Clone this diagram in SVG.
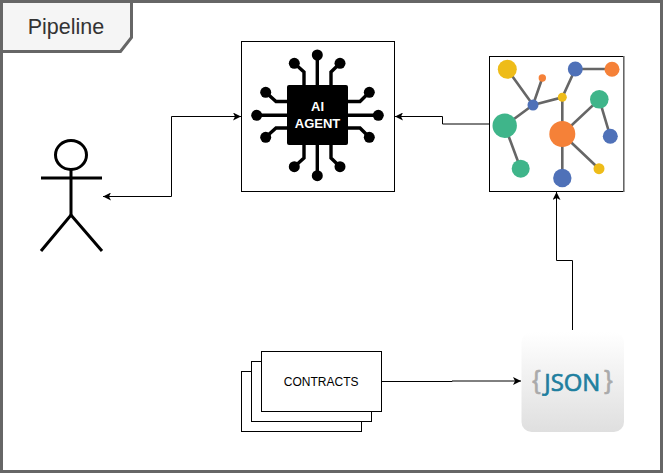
<svg xmlns="http://www.w3.org/2000/svg" width="663" height="473" viewBox="0 0 663 473">
<style>
.box{fill:#fff;stroke:#000;stroke-width:1}
.conn{fill:none;stroke:#000;stroke-width:1}
.c{fill:none;stroke:#000;stroke-width:3.4}
.p{fill:#000}
.e{stroke:#666;stroke-width:2.6;fill:none}
.fig{fill:none;stroke:#000;stroke-width:3}
text{font-family:"Liberation Sans",Arial,sans-serif}
</style>
<defs>
<marker id="a" markerUnits="userSpaceOnUse" markerWidth="9" markerHeight="8" refX="8" refY="4" orient="auto-start-reverse"><path d="M0 0L8 4L0 8L2 4Z" fill="#000"/></marker>
<linearGradient id="g" x1="0" y1="0" x2="0" y2="1"><stop offset="0" stop-color="#fff"/><stop offset="1" stop-color="#dfdfdf"/></linearGradient>
</defs>
<rect id="bg" x="0" y="0" width="663" height="473" fill="#fff"/>
<g id="frame">
<rect x="1.500" y="1.500" width="660" height="470" fill="none" stroke="#666" stroke-width="3"/>
<path d="M1.500 1.500H131.500V37.500L120.500 51.500H1.500Z" fill="#f5f5f5" stroke="#666" stroke-width="3"/>
<text x="66" y="33.500" font-size="21.500" fill="#333" text-anchor="middle">Pipeline</text>
</g>
<g id="agent">
<rect class="box" x="241.500" y="41.500" width="153" height="150"/>
<g class="c">
<path d="M317.300 115V55M317.300 115V176M257 115.300H378"/>
<path d="M304 88V72L294.300 63.300M331 88V72L340 63.300M304 142V158L294.300 166.700M331 142V158L340 166.700"/>
<path d="M290 101.500H276L265.700 92.300M345 101.500H360L369.300 92.300M290 128H276L265.700 137.300M345 128H360L369.300 137.300"/>
</g>
<g class="p">
<circle cx="317.300" cy="55" r="5.500"/><circle cx="317.300" cy="175.700" r="5.500"/><circle cx="256.700" cy="115.300" r="5.500"/><circle cx="378.300" cy="115.300" r="5.500"/>
<circle cx="294.300" cy="63.300" r="5.500"/><circle cx="340" cy="63.300" r="5.500"/><circle cx="294.300" cy="166.700" r="5.500"/><circle cx="340" cy="166.700" r="5.500"/>
<circle cx="265.700" cy="92.300" r="5.500"/><circle cx="369.300" cy="92.300" r="5.500"/><circle cx="265.700" cy="137.300" r="5.500"/><circle cx="369.300" cy="137.300" r="5.500"/>
</g>
<rect x="287" y="85" width="61" height="60" rx="2" fill="#000"/>
<text x="317.500" y="111" font-size="13" font-weight="bold" fill="#fff" text-anchor="middle">AI</text>
<text x="317.500" y="127.500" font-size="13" font-weight="bold" fill="#fff" text-anchor="middle">AGENT</text>
</g>
<g id="graph">
<rect class="box" x="489.500" y="56.500" width="134" height="135"/>
<path d="M624 56V192" stroke="#888" stroke-width="1.500"/>
<g class="e">
<path d="M507.300 69.300L533 105L542.300 78M533 105L504.700 125.700L520.700 168.700M533 105L562.300 97.300L575.300 69H612M562.300 97.300V178M562.300 134L599.300 99.300L610.300 136.300M562.300 134L599 168.700"/>
</g>
<circle cx="507.300" cy="69.300" r="9.500" fill="#eebc19"/>
<circle cx="542.300" cy="78" r="3.700" fill="#f58138"/>
<circle cx="575.300" cy="69" r="7.500" fill="#4f71b8"/>
<circle cx="612" cy="69.300" r="7.500" fill="#f58138"/>
<circle cx="562.300" cy="97.300" r="4.500" fill="#eebc19"/>
<circle cx="533" cy="105" r="5.500" fill="#4f71b8"/>
<circle cx="599.300" cy="99.300" r="9.300" fill="#3fb58a"/>
<circle cx="504.700" cy="125.700" r="12.200" fill="#3fb58a"/>
<circle cx="562.300" cy="134" r="13" fill="#f58138"/>
<circle cx="610.300" cy="136.300" r="7.500" fill="#4f71b8"/>
<circle cx="520.700" cy="168.700" r="9" fill="#3fb58a"/>
<circle cx="562.300" cy="178" r="9.200" fill="#4f71b8"/>
<circle cx="599" cy="168.700" r="5.500" fill="#eebc19"/>
</g>
<g id="actor" class="fig">
<ellipse cx="71" cy="155" rx="15.500" ry="14.500"/>
<path d="M71 170V215M41 178H102" />
<path d="M41 251L71 215L102 251"/>
</g>
<g id="contracts">
<rect class="box" x="241.500" y="371.500" width="120" height="60"/>
<rect class="box" x="251.500" y="361.500" width="120" height="60"/>
<rect class="box" x="261.500" y="351.500" width="120" height="60"/>
<text x="321.200" y="385.500" font-size="12" fill="#000" text-anchor="middle">CONTRACTS</text>
</g>
<g id="json">
<rect x="521.500" y="332" width="102.500" height="100" rx="10" fill="url(#g)"/>
<text x="572.300" y="390.500" font-size="24" fill="#1f7f9f" stroke="#1f7f9f" stroke-width="0.700" text-anchor="middle" style="font-family:'Open Sans',sans-serif" textLength="56" lengthAdjust="spacingAndGlyphs">JSON</text>
<text x="536.500" y="389" font-size="25" fill="#aaa" stroke="#aaa" stroke-width="0.600" text-anchor="middle">{</text>
<text x="608.500" y="389" font-size="25" fill="#aaa" stroke="#aaa" stroke-width="0.600" text-anchor="middle">}</text>
</g>
<g id="connectors">
<path class="conn" d="M103 196.500H171.500V116.500H241" marker-start="url(#a)" marker-end="url(#a)"/>
<path class="conn" d="M489 124H442.500V116.500H395" marker-end="url(#a)"/>
<path class="conn" d="M572.500 330V260.500H556.500V192" marker-end="url(#a)"/>
<path class="conn" d="M382 381.500H452V381H521" marker-end="url(#a)"/>
</g>
</svg>
